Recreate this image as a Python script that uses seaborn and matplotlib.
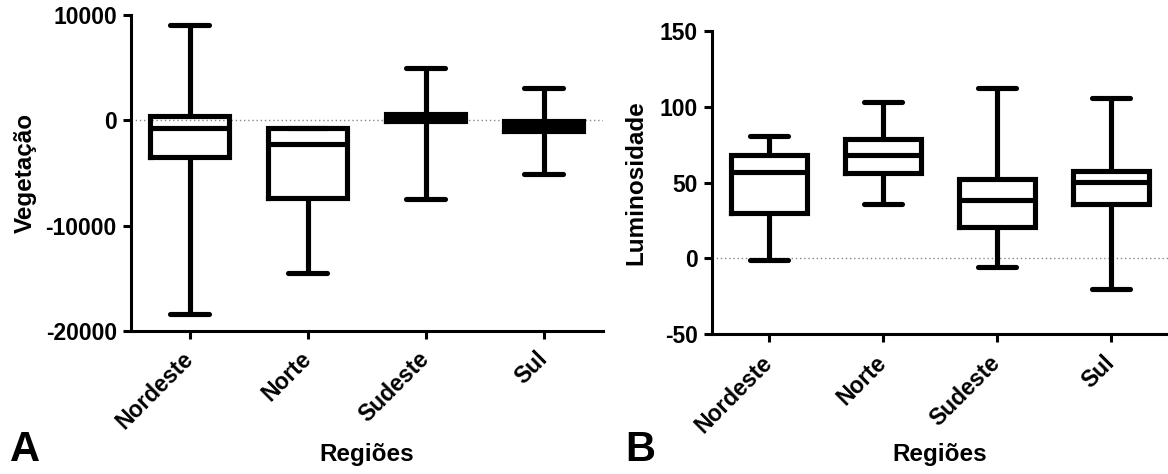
import pandas as pd
import matplotlib.pyplot as plt
import seaborn as sns

# Regiões (eixo x)
regioes = ["Nordeste", "Norte", "Sudeste", "Sul"]

# Painel A - Vegetação: mínimo, quartis, mediana, máximo
veg_min = [-18440, -14480, -7490, -5100]
veg_q1 = [-3460, -7360, -80, -980]
veg_med = [-695, -2220, 90, -500]
veg_q3 = [381, -700, 640, -76]
veg_max = [9086, -700, 4990, 3085]

# Painel B - Luminosidade
lum_min = [-1.3, 35.9, -5.5, -20.3]
lum_q1 = [30, 56.4, 20.5, 36.1]
lum_med = [57, 68, 38.8, 50.4]
lum_q3 = [68, 78.4, 52, 57.3]
lum_max = [80.8, 102.9, 112.3, 105.7]


def monta_df(mins, q1s, meds, q3s, maxs):
    """Cinco valores por região reproduzem exatamente os quartis do boxplot."""
    linhas = []
    for reg, *vals in zip(regioes, mins, q1s, meds, q3s, maxs):
        for v in vals:
            linhas.append({"Regiões": reg, "valor": v})
    return pd.DataFrame(linhas)


sns.set_style("ticks")
plt.rcParams["font.family"] = ["Liberation Sans", "DejaVu Sans"]
plt.rcParams["font.weight"] = "bold"
plt.rcParams["axes.unicode_minus"] = False
plt.rcParams["text.color"] = "black"
plt.rcParams["axes.labelcolor"] = "black"
plt.rcParams["xtick.color"] = "black"
plt.rcParams["ytick.color"] = "black"
plt.rcParams["axes.edgecolor"] = "black"

W, H = 1168, 474
fig = plt.figure(figsize=(W / 100, H / 100), dpi=100)
ax_a = fig.add_axes([130.7 / W, 1 - 330.7 / H, 472 / W, 315.4 / H])
ax_b = fig.add_axes([711.7 / W, 1 - 334.3 / H, 456 / W, 303.6 / H])


def desenha(ax, df, ylabel, ylim, yticks, ylab_x, xlab_y):
    ax.axhline(0, color="#888888", lw=1.0, ls=(0, (1, 2)), zorder=1)
    sns.boxplot(data=df, x="Regiões", y="valor", order=regioes, ax=ax,
                fill=False, color="black", linecolor="black", linewidth=3.7,
                width=0.665, whis=(0, 100), showfliers=False,
                boxprops={"solid_joinstyle": "miter", "solid_capstyle": "projecting"},
                capprops={"solid_capstyle": "round"})
    ax.set_xlim(-0.5, 3.5)
    ax.set_ylim(*ylim)
    ax.set_yticks(yticks)
    ax.set_ylabel(ylabel, fontsize=17.5, fontweight="bold", color="black")
    ax.set_xlabel("Regiões", fontsize=17.5, fontweight="bold", color="black")
    ax.yaxis.set_label_coords(ylab_x, 0.5)
    ax.xaxis.set_label_coords(0.5, xlab_y)
    sns.despine(ax=ax)
    for s in ["left", "bottom"]:
        ax.spines[s].set_linewidth(2.2)
        ax.spines[s].set_color("black")
    ax.tick_params(width=2.2, length=6, labelsize=16.5, colors="black")
    ax.tick_params(axis="y", pad=4)
    ax.tick_params(axis="x", pad=12)
    for lbl in ax.get_xticklabels():
        lbl.set_rotation(45)
        lbl.set_ha("right")
        lbl.set_va("center")
        lbl.set_rotation_mode("anchor")
        lbl.set_fontweight("bold")
    for lbl in ax.get_yticklabels():
        lbl.set_fontweight("bold")


desenha(ax_a, monta_df(veg_min, veg_q1, veg_med, veg_q3, veg_max),
        "Vegetação", (-20000, 10000), [-20000, -10000, 0, 10000], -0.198, -0.356)
desenha(ax_b, monta_df(lum_min, lum_q1, lum_med, lum_q3, lum_max),
        "Luminosidade", (-50, 150), [-50, 0, 50, 100, 150], -0.14, -0.358)

fig.text(10 / W, 1 - 461 / H, "A", fontsize=30, fontweight="bold", va="baseline")
fig.text(625 / W, 1 - 461 / H, "B", fontsize=30, fontweight="bold", va="baseline")

fig.savefig("out.png", dpi=100)
